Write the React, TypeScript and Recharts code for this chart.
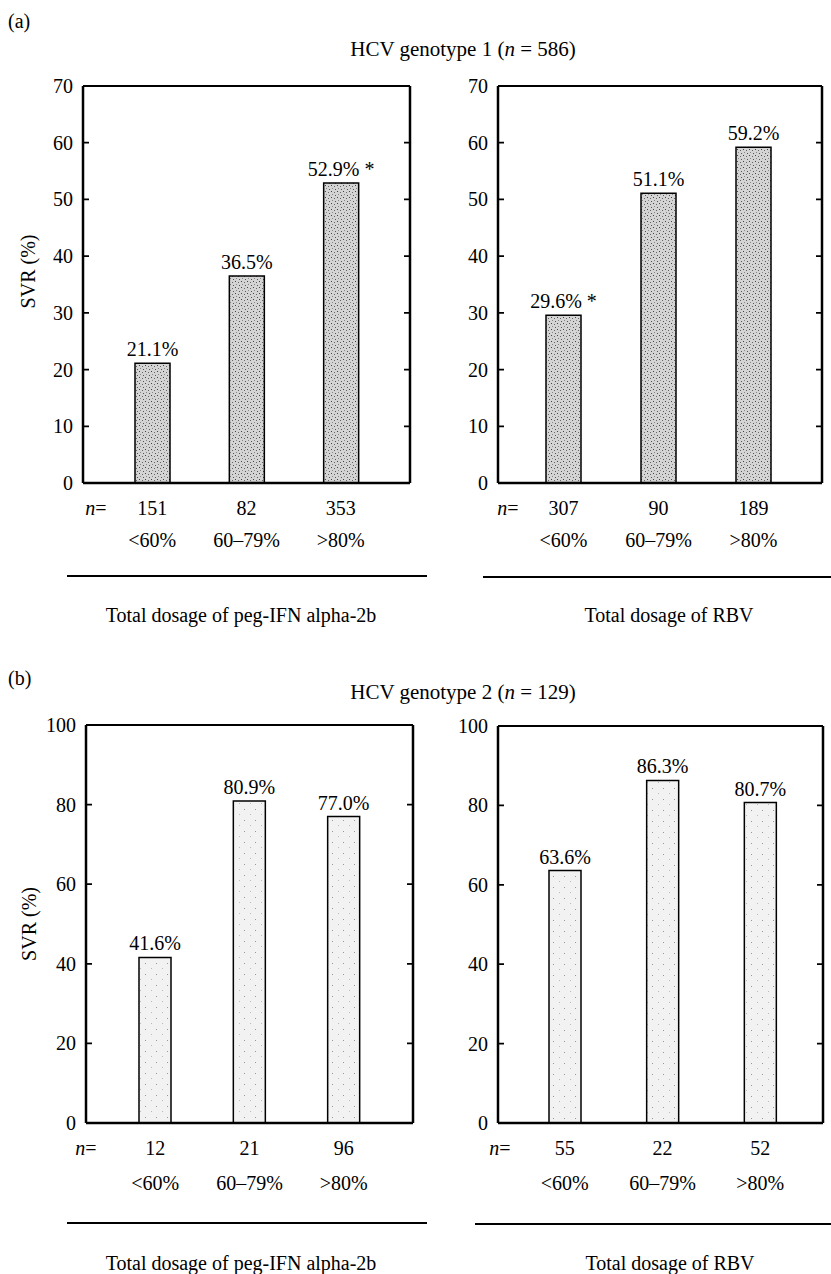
import { BarChart, Bar, XAxis, YAxis, LabelList, Label, ReferenceLine } from "recharts";

const FONT = '"Liberation Serif", "Times New Roman", serif';

const CATS = ["<60%", "60–79%", ">80%"];

// (a) genotype 1
const G1_PEG_SVR = [21.1, 36.5, 52.9];
const G1_PEG_N = [151, 82, 353];
const G1_PEG_STAR = [false, false, true];
const G1_RBV_SVR = [29.6, 51.1, 59.2];
const G1_RBV_N = [307, 90, 189];
const G1_RBV_STAR = [true, false, false];

// (b) genotype 2
const G2_PEG_SVR = [41.6, 80.9, 77.0];
const G2_PEG_N = [12, 21, 96];
const G2_RBV_SVR = [63.6, 86.3, 80.7];
const G2_RBV_N = [55, 22, 52];
const NO_STAR = [false, false, false];

const G1_TICKS = [0, 10, 20, 30, 40, 50, 60, 70];
const G2_TICKS = [0, 20, 40, 60, 80, 100];

const AXIS = { stroke: "#000", strokeWidth: 2.5 };

// short inward tick marks at both ends of a horizontal reference line
function Nubs(p: any) {
  const x1 = Math.min(p.x1, p.x2);
  const x2 = Math.max(p.x1, p.x2);
  return (
    <path d={`M${x1},${p.y1}h6M${x2 - 6},${p.y1}h6`} stroke="#000" strokeWidth={1.8} fill="none" />
  );
}

function Panel(props: any) {
  const {
    chartLeft, plotLeft, plotRight, plotTop, plotBottom,
    svr, n, star, ticks, padL, padR, barSize, fill, nOffset, catDy, yLabel, yLabelDy,
  } = props;
  const data = CATS.map((c, i) => ({
    cat: c,
    svr: svr[i],
    n: n[i],
    label: svr[i].toFixed(1) + "%" + (star[i] ? " *" : ""),
  }));
  const topMargin = 40;
  const xAxisH = 80;
  const yW = plotLeft - chartLeft;
  const width = plotRight + 8 - chartLeft;
  const height = plotBottom - plotTop + topMargin + xAxisH;
  const yMax = ticks[ticks.length - 1];
  const firstCenter = padL + (plotRight - plotLeft - padL - padR) / 6;
  const inner = ticks.filter((v: number) => v > 0 && v < yMax);

  return (
    <div style={{ position: "absolute", left: chartLeft, top: plotTop - topMargin }}>
      <BarChart width={width} height={height} data={data} margin={{ top: topMargin, right: 0, bottom: 0, left: 0 }}>
        <defs>
          <pattern id="dotsA" width="6" height="6" patternUnits="userSpaceOnUse">
            <rect width="6" height="6" fill="#d4d4d4" />
            <rect x="1" y="1" width="1" height="1" fill="#444" />
            <rect x="4" y="2" width="1" height="1" fill="#666" />
            <rect x="2" y="4" width="1" height="1" fill="#888" />
            <rect x="5" y="5" width="1" height="1" fill="#555" />
          </pattern>
          <pattern id="dotsB" width="11" height="11" patternUnits="userSpaceOnUse">
            <rect width="11" height="11" fill="#f2f2f2" />
            <rect x="2" y="3" width="1" height="1" fill="#999" />
            <rect x="8" y="8" width="1" height="1" fill="#bbb" />
          </pattern>
        </defs>
        <XAxis
          dataKey="cat"
          xAxisId="b"
          height={xAxisH}
          interval={0}
          padding={{ left: padL, right: padR }}
          axisLine={AXIS}
          tickLine={false}
          tickSize={0}
          tickMargin={0}
          tick={(p: any) => {
            const i = p.index ?? p.payload.index;
            return (
              <g fontFamily={FONT} fontSize={20} fill="#000">
                {i === 0 && (
                  <text x={p.x - firstCenter + nOffset} y={p.y + 32} textAnchor="middle">
                    <tspan fontStyle="italic">n</tspan>=
                  </text>
                )}
                <text x={p.x} y={p.y + 32} textAnchor="middle">{data[i].n}</text>
                <text x={p.x} y={p.y + catDy} textAnchor="middle">{data[i].cat}</text>
              </g>
            );
          }}
        />
        <YAxis
          yAxisId="l"
          width={yW}
          domain={[0, yMax]}
          ticks={ticks}
          interval={0}
          axisLine={AXIS}
          tickLine={false}
          tickSize={0}
          tickMargin={10}
          tick={(p: any) => (
            <text x={p.x} y={p.y} dy="0.35em" textAnchor="end" fontFamily={FONT} fontSize={20} fill="#000">
              {p.payload.value}
            </text>
          )}
        >
          {yLabel && (
            <Label value="SVR (%)" angle={-90} position="center" dx={-14} dy={yLabelDy}
              style={{ fontFamily: FONT, fontSize: 20, fill: "#000" }} />
          )}
        </YAxis>
        <YAxis
          yAxisId="r"
          orientation="right"
          width={8}
          domain={[0, yMax]}
          axisLine={AXIS}
          tickLine={false}
          tick={false}
        />
        {inner.map((v: number) => (
          <ReferenceLine key={v} yAxisId="l" xAxisId="b" y={v} shape={Nubs} />
        ))}
        <ReferenceLine yAxisId="l" xAxisId="b" y={yMax} stroke="#000" strokeWidth={2.2} />
        <Bar
          dataKey="svr"
          xAxisId="b"
          yAxisId="l"
          barSize={barSize}
          fill={`url(#${fill})`}
          stroke="#000"
          strokeWidth={1.5}
          isAnimationActive={false}
        >
          <LabelList
            dataKey="label"
            content={(p: any) => (
              <text x={p.x + p.width / 2} y={p.y - 7} textAnchor="middle" fontFamily={FONT} fontSize={20} fill="#000">
                {p.value}
              </text>
            )}
          />
        </Bar>
      </BarChart>
    </div>
  );
}

export default function App() {
  return (
    <div style={{ position: "absolute", left: 0, top: 0, width: 831, height: 1274, background: "#fff", fontFamily: FONT }}>
      <svg width={831} height={1274} style={{ position: "absolute", left: 0, top: 0 }} fontFamily={FONT} fill="#000">
        <text x={8} y={28} fontSize={20}>(a)</text>
        <text x={463} y={56} fontSize={21} textAnchor="middle">
          HCV genotype 1 (<tspan fontStyle="italic">n</tspan> = 586)
        </text>
        <line x1={67} x2={427} y1={576} y2={576} stroke="#000" strokeWidth={2} />
        <line x1={483} x2={831} y1={577} y2={577} stroke="#000" strokeWidth={2} />
        <text x={241} y={622} fontSize={20} textAnchor="middle">Total dosage of peg-IFN alpha-2b</text>
        <text x={669} y={622} fontSize={20} textAnchor="middle">Total dosage of RBV</text>

        <text x={8} y={685} fontSize={20}>(b)</text>
        <text x={463} y={699} fontSize={21} textAnchor="middle">
          HCV genotype 2 (<tspan fontStyle="italic">n</tspan> = 129)
        </text>
        <line x1={67} x2={427} y1={1223} y2={1223} stroke="#000" strokeWidth={2} />
        <line x1={475} x2={831} y1={1224} y2={1224} stroke="#000" strokeWidth={2} />
        <text x={241} y={1270} fontSize={20} textAnchor="middle">Total dosage of peg-IFN alpha-2b</text>
        <text x={670} y={1270} fontSize={20} textAnchor="middle">Total dosage of RBV</text>
      </svg>

      <Panel chartLeft={0} plotLeft={83} plotRight={410} plotTop={86} plotBottom={483}
        svr={G1_PEG_SVR} n={G1_PEG_N} star={G1_PEG_STAR} ticks={G1_TICKS}
        padL={22} padR={22} barSize={35} fill="dotsA" nOffset={13} catDy={64} yLabel yLabelDy={-13} />
      <Panel chartLeft={430} plotLeft={498} plotRight={822} plotTop={86} plotBottom={483}
        svr={G1_RBV_SVR} n={G1_RBV_N} star={G1_RBV_STAR} ticks={G1_TICKS}
        padL={18} padR={21} barSize={35} fill="dotsA" nOffset={10} catDy={64} />
      <Panel chartLeft={0} plotLeft={86} plotRight={413} plotTop={725} plotBottom={1123}
        svr={G2_PEG_SVR} n={G2_PEG_N} star={NO_STAR} ticks={G2_TICKS}
        padL={22} padR={22} barSize={32} fill="dotsB" nOffset={0} catDy={67} yLabel yLabelDy={0} />
      <Panel chartLeft={430} plotLeft={498} plotRight={823} plotTop={726} plotBottom={1123}
        svr={G2_RBV_SVR} n={G2_RBV_N} star={NO_STAR} ticks={G2_TICKS}
        padL={18} padR={14} barSize={32} fill="dotsB" nOffset={2} catDy={67} />
    </div>
  );
}
